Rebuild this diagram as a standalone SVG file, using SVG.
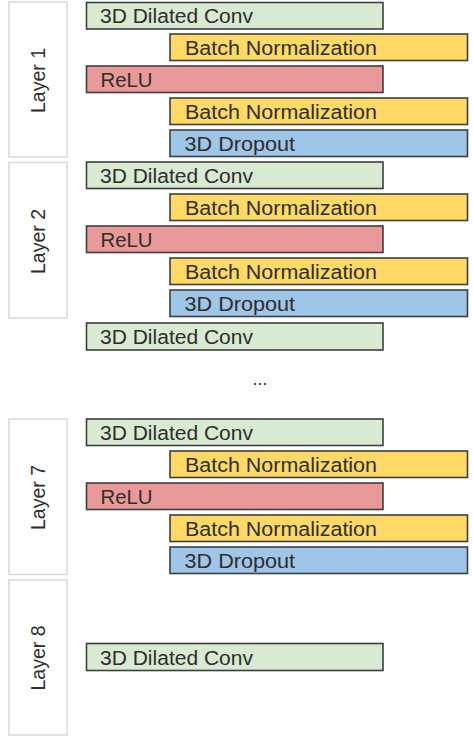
<svg xmlns="http://www.w3.org/2000/svg" width="473" height="736" viewBox="0 0 473 736">
  <style>
    .blk { stroke: #3f3f3f; stroke-width: 1.6; }
    .conv { fill: #d9ead3; }
    .bn { fill: #ffd966; }
    .relu { fill: #ea9999; }
    .drop { fill: #9fc5e8; }
    .layer rect { fill: #ffffff; stroke: #d9d9d9; stroke-width: 1.5; }
    text { font-family: "Liberation Sans", Arial, Helvetica, sans-serif; font-size: 19.5px; fill: #2e2e2e; }
    .lbl { text-anchor: middle; }
  </style>

  <!-- layer labels -->
  <g id="layer1" class="layer">
    <rect x="9" y="2" width="58" height="155"/>
    <text class="lbl" transform="translate(45,80.5) scale(1.08,1) rotate(-90)">Layer 1</text>
  </g>
  <g id="layer2" class="layer">
    <rect x="9" y="162.5" width="58" height="155.5"/>
    <text class="lbl" transform="translate(45,241.5) scale(1.08,1) rotate(-90)">Layer 2</text>
  </g>
  <g id="layer7" class="layer">
    <rect x="9" y="419" width="58" height="155.5"/>
    <text class="lbl" transform="translate(45,497.5) scale(1.08,1) rotate(-90)">Layer 7</text>
  </g>
  <g id="layer8" class="layer">
    <rect x="9" y="580" width="58" height="155"/>
    <text class="lbl" transform="translate(45,658) scale(1.08,1) rotate(-90)">Layer 8</text>
  </g>

  <!-- layer 1 blocks -->
  <g id="l1-conv"><rect class="blk conv" x="86.5" y="2.5" width="296.5" height="26.5"/><text x="100" y="23" textLength="153" lengthAdjust="spacingAndGlyphs">3D Dilated Conv</text></g>
  <g id="l1-bn1"><rect class="blk bn" x="170" y="34" width="297.5" height="26.5"/><text x="185" y="54.5" textLength="192" lengthAdjust="spacingAndGlyphs">Batch Normalization</text></g>
  <g id="l1-relu"><rect class="blk relu" x="86.5" y="66" width="296.5" height="26.5"/><text x="100.5" y="86.5" textLength="52" lengthAdjust="spacingAndGlyphs">ReLU</text></g>
  <g id="l1-bn2"><rect class="blk bn" x="170" y="98" width="297.5" height="26.5"/><text x="185" y="118.5" textLength="192" lengthAdjust="spacingAndGlyphs">Batch Normalization</text></g>
  <g id="l1-drop"><rect class="blk drop" x="170" y="130" width="297.5" height="26.5"/><text x="184.5" y="150.5" textLength="110.5" lengthAdjust="spacingAndGlyphs">3D Dropout</text></g>

  <!-- layer 2 blocks -->
  <g id="l2-conv"><rect class="blk conv" x="86.5" y="162" width="296.5" height="26.5"/><text x="100" y="182.5" textLength="153" lengthAdjust="spacingAndGlyphs">3D Dilated Conv</text></g>
  <g id="l2-bn1"><rect class="blk bn" x="170" y="194" width="297.5" height="26.5"/><text x="185" y="214.5" textLength="192" lengthAdjust="spacingAndGlyphs">Batch Normalization</text></g>
  <g id="l2-relu"><rect class="blk relu" x="86.5" y="226" width="296.5" height="26.5"/><text x="100.5" y="246.5" textLength="52" lengthAdjust="spacingAndGlyphs">ReLU</text></g>
  <g id="l2-bn2"><rect class="blk bn" x="170" y="258" width="297.5" height="26.5"/><text x="185" y="278.5" textLength="192" lengthAdjust="spacingAndGlyphs">Batch Normalization</text></g>
  <g id="l2-drop"><rect class="blk drop" x="170" y="290" width="297.5" height="26.5"/><text x="184.5" y="310.5" textLength="110.5" lengthAdjust="spacingAndGlyphs">3D Dropout</text></g>
  <g id="l3-conv"><rect class="blk conv" x="86.5" y="323" width="296.5" height="27"/><text x="100" y="343.5" textLength="153" lengthAdjust="spacingAndGlyphs">3D Dilated Conv</text></g>

  <!-- omitted layers -->
  <g id="ellipsis"><text x="260" y="385" text-anchor="middle" style="font-size:18px;fill:#333333">...</text></g>

  <!-- layer 7 blocks -->
  <g id="l7-conv"><rect class="blk conv" x="86.5" y="419" width="296.5" height="26.5"/><text x="100" y="439.5" textLength="153" lengthAdjust="spacingAndGlyphs">3D Dilated Conv</text></g>
  <g id="l7-bn1"><rect class="blk bn" x="170" y="451" width="297.5" height="26.5"/><text x="185" y="471.5" textLength="192" lengthAdjust="spacingAndGlyphs">Batch Normalization</text></g>
  <g id="l7-relu"><rect class="blk relu" x="86.5" y="483" width="296.5" height="26.5"/><text x="100.5" y="503.5" textLength="52" lengthAdjust="spacingAndGlyphs">ReLU</text></g>
  <g id="l7-bn2"><rect class="blk bn" x="170" y="515" width="297.5" height="26.5"/><text x="185" y="535.5" textLength="192" lengthAdjust="spacingAndGlyphs">Batch Normalization</text></g>
  <g id="l7-drop"><rect class="blk drop" x="170" y="547" width="297.5" height="26.5"/><text x="184.5" y="567.5" textLength="110.5" lengthAdjust="spacingAndGlyphs">3D Dropout</text></g>

  <!-- layer 8 block -->
  <g id="l8-conv"><rect class="blk conv" x="86.5" y="643.5" width="296.5" height="27"/><text x="100" y="664.5" textLength="153" lengthAdjust="spacingAndGlyphs">3D Dilated Conv</text></g>

  <g id="connectors"></g>
</svg>
